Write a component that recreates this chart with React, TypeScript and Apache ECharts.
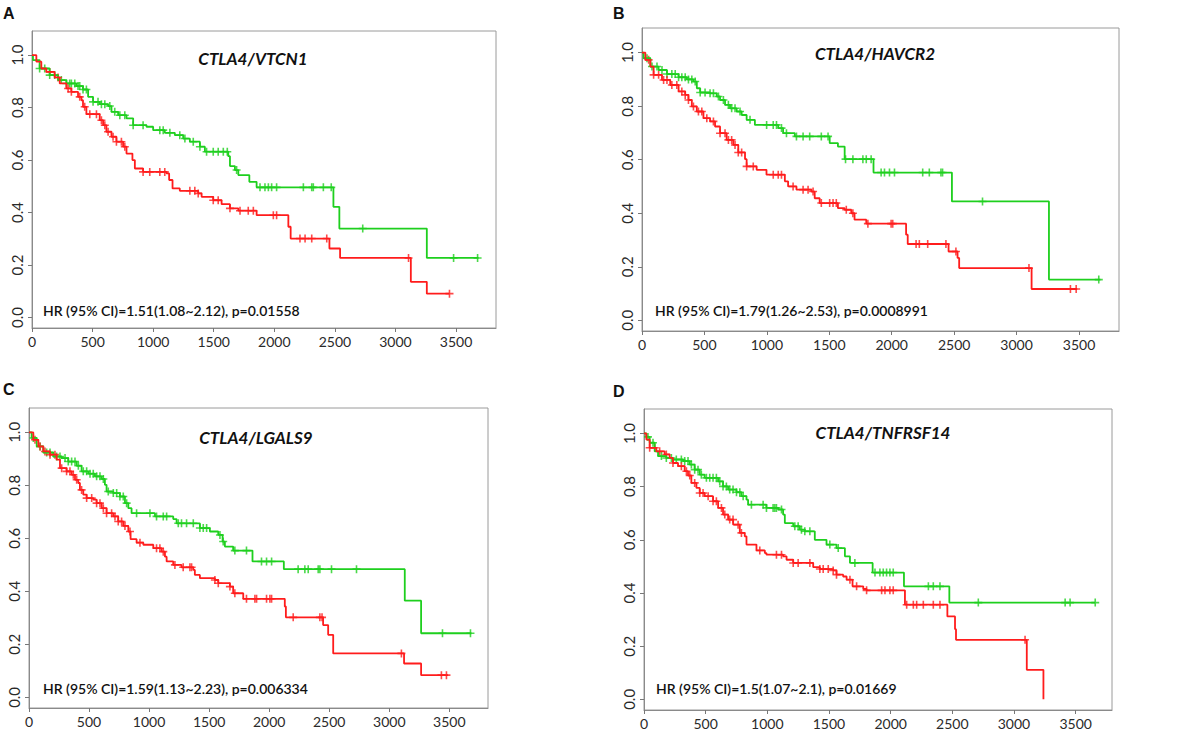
import React, { useEffect, useRef } from "react";
import * as echarts from "echarts";

// ---------- tick labels ----------
const xTicks = [0, 500, 1000, 1500, 2000, 2500, 3000, 3500];
const yTicks = [0, 0.2, 0.4, 0.6, 0.8, 1.0];

// ---------- texts ----------
const panelLetters = ["A", "B", "C", "D"];
const geneTitles = ["CTLA4/VTCN1", "CTLA4/HAVCR2", "CTLA4/LGALS9", "CTLA4/TNFRSF14"];
const hrTexts = [
  "HR (95% CI)=1.51(1.08~2.12), p=0.01558",
  "HR (95% CI)=1.79(1.26~2.53), p=0.0008991",
  "HR (95% CI)=1.59(1.13~2.23), p=0.006334",
  "HR (95% CI)=1.5(1.07~2.1), p=0.01669",
];

// ---------- survival steps [time, survival after time] ----------
const aGreen = [[0,1],[8,0.981],[63,0.949],[146,0.924],[215,0.905],[284,0.892],[366,0.882],[421,0.869],[463,0.841],[504,0.822],[559,0.813],[628,0.806],[656,0.784],[711,0.771],[780,0.759],[835,0.733],[945,0.727],[1000,0.714],[1096,0.704],[1179,0.695],[1248,0.682],[1303,0.67],[1386,0.651],[1427,0.632],[1620,0.615],[1634,0.577],[1675,0.562],[1703,0.543],[1794,0.517],[1854,0.496],[2488,0.422],[2537,0.339],[3259,0.227],[3686,0.227]];
const aRed = [[0,1],[36,0.975],[77,0.949],[118,0.936],[187,0.915],[229,0.892],[284,0.873],[325,0.86],[380,0.841],[408,0.828],[421,0.803],[449,0.775],[559,0.752],[587,0.733],[614,0.708],[656,0.689],[697,0.67],[752,0.651],[780,0.625],[829,0.6],[849,0.568],[917,0.555],[1110,0.549],[1132,0.524],[1160,0.492],[1220,0.483],[1372,0.473],[1400,0.46],[1496,0.447],[1565,0.432],[1634,0.416],[1703,0.407],[1854,0.39],[2116,0.346],[2135,0.301],[2455,0.263],[2543,0.227],[3127,0.136],[3259,0.091],[3446,0.091]];
const aGreenCensor = [63,105,146,187,242,284,311,325,353,380,394,421,449,504,545,573,601,642,683,725,766,835,917,1055,1083,1138,1220,1262,1331,1386,1441,1496,1537,1579,1612,1689,1882,1923,1951,1978,2019,2240,2309,2322,2405,2470,2730,3480,3678];
const aRedCensor = [146,215,298,325,394,435,477,532,573,601,628,669,697,738,766,917,972,1055,1096,1303,1344,1372,1496,1537,1634,1717,1785,1827,1992,2019,2212,2254,2309,2433,3108,3446];

const bGreen = [[0,1],[13,0.979],[67,0.948],[133,0.935],[200,0.92],[293,0.908],[359,0.9],[412,0.892],[439,0.867],[466,0.851],[545,0.848],[599,0.836],[625,0.823],[665,0.805],[705,0.792],[758,0.78],[798,0.767],[838,0.749],[904,0.73],[1091,0.718],[1130,0.699],[1224,0.687],[1503,0.662],[1569,0.649],[1623,0.602],[1854,0.552],[2482,0.444],[3259,0.152],[3671,0.152]];
const bRed = [[0,1],[27,0.973],[67,0.948],[93,0.917],[160,0.898],[226,0.879],[293,0.855],[346,0.842],[372,0.823],[399,0.799],[439,0.78],[492,0.755],[545,0.743],[585,0.724],[625,0.699],[678,0.674],[731,0.655],[771,0.627],[825,0.602],[838,0.575],[918,0.562],[997,0.544],[1144,0.519],[1170,0.5],[1237,0.488],[1357,0.481],[1383,0.456],[1423,0.438],[1569,0.419],[1623,0.413],[1676,0.4],[1702,0.376],[1796,0.361],[2115,0.32],[2128,0.285],[2455,0.257],[2527,0.233],[2540,0.195],[3120,0.117],[3485,0.117]];
const bGreenCensor = [40,80,120,160,200,239,266,293,319,346,372,399,426,466,505,545,572,612,652,692,718,745,785,865,998,1051,1077,1117,1157,1237,1290,1343,1436,1490,1630,1689,1769,1796,1835,1915,1942,1982,2022,2248,2301,2394,2407,2727,3658];
const bRedCensor = [53,93,133,173,200,239,279,319,346,372,412,452,479,519,572,625,665,692,718,745,771,798,838,891,1051,1091,1117,1210,1290,1330,1370,1436,1503,1530,1556,1636,1689,1809,1995,2008,2195,2221,2288,2434,2514,3099,3431,3477];

const cGreen = [[0,1],[22,0.979],[64,0.947],[119,0.924],[202,0.909],[272,0.903],[327,0.89],[397,0.874],[438,0.853],[494,0.844],[549,0.834],[605,0.824],[632,0.802],[646,0.777],[702,0.771],[757,0.758],[799,0.733],[827,0.714],[854,0.695],[1049,0.683],[1201,0.673],[1229,0.657],[1423,0.639],[1506,0.626],[1576,0.613],[1612,0.588],[1631,0.569],[1700,0.554],[1861,0.513],[2122,0.484],[3129,0.365],[3265,0.242],[3684,0.242]];
const cRed = [[0,1],[36,0.972],[78,0.947],[119,0.928],[175,0.916],[230,0.897],[258,0.865],[313,0.853],[355,0.84],[383,0.821],[410,0.809],[424,0.783],[452,0.765],[480,0.752],[535,0.746],[563,0.733],[605,0.714],[646,0.695],[702,0.683],[743,0.664],[785,0.647],[827,0.626],[846,0.597],[896,0.584],[952,0.576],[1035,0.563],[1104,0.55],[1132,0.531],[1146,0.513],[1201,0.5],[1270,0.491],[1368,0.481],[1381,0.462],[1423,0.45],[1548,0.443],[1576,0.431],[1673,0.418],[1700,0.393],[1784,0.372],[2130,0.343],[2139,0.302],[2449,0.273],[2491,0.236],[2533,0.166],[3123,0.128],[3265,0.084],[3490,0.084]];
const cGreenCensor = [36,92,147,175,230,258,300,327,355,383,411,452,480,508,535,563,591,619,660,702,730,757,785,813,896,1007,1062,1118,1146,1243,1270,1312,1368,1423,1451,1479,1590,1617,1714,1811,1936,1978,2020,2241,2297,2325,2408,2422,2519,2727,3443,3676];
const cRedCensor = [50,92,133,175,216,272,313,341,369,397,438,480,522,563,591,619,646,688,716,743,771,799,841,924,1062,1090,1118,1215,1284,1340,1354,1548,1576,1673,1714,1811,1881,1895,1978,2006,2020,2200,2422,2440,3101,3434,3476];

const dGreen = [[0,1],[19,0.987],[46,0.965],[87,0.933],[114,0.915],[181,0.908],[235,0.902],[317,0.896],[371,0.883],[411,0.864],[452,0.845],[492,0.833],[601,0.82],[641,0.801],[682,0.789],[750,0.779],[790,0.764],[831,0.751],[844,0.732],[993,0.72],[1088,0.714],[1128,0.695],[1142,0.663],[1210,0.651],[1264,0.638],[1304,0.632],[1385,0.6],[1480,0.582],[1561,0.569],[1629,0.538],[1670,0.513],[1854,0.477],[2108,0.425],[2476,0.364],[3659,0.364]];
const dRed = [[0,1],[19,0.977],[46,0.946],[100,0.933],[168,0.921],[208,0.908],[235,0.889],[276,0.877],[330,0.858],[357,0.842],[384,0.814],[425,0.795],[452,0.776],[492,0.764],[560,0.745],[601,0.72],[641,0.695],[682,0.676],[723,0.657],[777,0.626],[817,0.613],[831,0.582],[912,0.56],[980,0.55],[993,0.544],[1128,0.538],[1156,0.525],[1210,0.513],[1372,0.497],[1426,0.49],[1534,0.485],[1561,0.469],[1615,0.462],[1643,0.45],[1691,0.425],[1778,0.415],[1805,0.41],[2116,0.356],[2460,0.312],[2522,0.264],[2530,0.224],[3104,0.111],[3239,0]];
const dGreenCensor = [32,73,141,181,222,262,303,330,357,384,411,438,465,506,533,560,587,614,641,668,695,722,750,777,804,871,966,993,1047,1061,1074,1115,1223,1250,1277,1304,1345,1507,1575,1710,1873,1913,1940,1967,1994,2021,2306,2346,2400,2711,3415,3455,3659];
const dRedCensor = [46,87,127,181,235,303,344,371,411,452,479,520,560,587,628,655,695,722,763,790,939,1074,1115,1210,1250,1345,1426,1453,1494,1534,1561,1670,1724,1805,1927,1954,1994,2021,2130,2184,2211,2265,2346,2400,3090];

const greenSteps = [aGreen, bGreen, cGreen, dGreen];
const redSteps = [aRed, bRed, cRed, dRed];
const greenCensors = [aGreenCensor, bGreenCensor, cGreenCensor, dGreenCensor];
const redCensors = [aRedCensor, bRedCensor, cRedCensor, dRedCensor];

// ---------- layout (pixels) ----------
const GRIDS = [
  { left: 32, top: 31, width: 464, height: 297, xMax: 3830 },
  { left: 642, top: 28, width: 477, height: 303, xMax: 3820 },
  { left: 29, top: 408, width: 459, height: 300, xMax: 3822 },
  { left: 644, top: 409, width: 468, height: 301, xMax: 3795 },
];
const LETTER_POS = [[3, 13], [613, 13], [3, 389], [613, 391]];
const TITLE_POS = [[253, 58], [875, 53], [256, 437], [883, 432]];
const HR_POS = [[43, 310], [655, 310], [43, 688], [656, 688]];

const GREEN = "#1ecf1e";
const RED = "#ff1c1c";
const PLUS = "path://M4,0H6V4H10V6H6V10H4V6H0V4H4Z";
const FONT = "Lato, 'Open Sans', sans-serif";

function survAt(steps: number[][], t: number) {
  let s = steps[0][1];
  for (const [ti, si] of steps) {
    if (ti <= t) s = si;
    else break;
  }
  return s;
}

function buildOption() {
  const grid: any[] = [];
  const xAxis: any[] = [];
  const yAxis: any[] = [];
  const series: any[] = [];
  const graphic: any[] = [];

  GRIDS.forEach((g, i) => {
    grid.push({
      left: g.left, top: g.top, width: g.width, height: g.height,
      show: true, borderColor: "#9a9a9a", borderWidth: 1, backgroundColor: "#fff",
    });
    xAxis.push({
      type: "value", gridIndex: i, min: 0, max: g.xMax,
      splitLine: { show: false },
      axisLine: { show: true, onZero: false, lineStyle: { color: "#8a8a8a", width: 1 } },
      axisTick: { show: true, inside: false, length: 4, customValues: xTicks, lineStyle: { color: "#777" } },
      axisLabel: {
        show: true, customValues: xTicks, margin: 6, color: "#2a2a2a",
        fontFamily: FONT, fontSize: 14, formatter: (v: number) => String(v),
      },
    });
    yAxis.push({
      type: "value", gridIndex: i, min: -0.04, max: 1.092,
      splitLine: { show: false },
      axisLine: { show: true, onZero: false, lineStyle: { color: "#8a8a8a", width: 1 } },
      axisTick: { show: true, inside: false, length: 4, customValues: yTicks, lineStyle: { color: "#777" } },
      axisLabel: {
        show: true, customValues: yTicks, rotate: 90, margin: 8, color: "#2a2a2a",
        fontFamily: FONT, fontSize: 15, formatter: (v: number) => v.toFixed(1),
      },
    });

    const groups = [
      { steps: greenSteps[i], cens: greenCensors[i], color: GREEN },
      { steps: redSteps[i], cens: redCensors[i], color: RED },
    ];
    groups.forEach((grp) => {
      series.push({
        type: "line", xAxisIndex: i, yAxisIndex: i, step: "end",
        data: grp.steps, showSymbol: false, symbol: "none",
        lineStyle: { color: grp.color, width: 1.8 }, silent: true,
      });
      series.push({
        type: "scatter", xAxisIndex: i, yAxisIndex: i,
        data: grp.cens.map((t) => [t, survAt(grp.steps, t)]),
        symbol: PLUS, symbolSize: 8,
        itemStyle: { color: grp.color, opacity: 0.8 }, silent: true,
      });
    });

    graphic.push({
      type: "text", x: LETTER_POS[i][0], y: LETTER_POS[i][1],
      style: {
        text: panelLetters[i], fill: "#111", fontFamily: "'Liberation Sans', Arial, sans-serif",
        fontWeight: "bold", fontSize: 16, align: "left", verticalAlign: "middle",
        textAlign: "left", textVerticalAlign: "middle",
      },
    });
    graphic.push({
      type: "text", x: TITLE_POS[i][0], y: TITLE_POS[i][1],
      style: {
        text: geneTitles[i], fill: "#111", fontFamily: FONT, fontStyle: "italic",
        fontWeight: "bold", fontSize: 17, align: "center", verticalAlign: "middle",
        textAlign: "center", textVerticalAlign: "middle",
      },
    });
    graphic.push({
      type: "text", x: HR_POS[i][0], y: HR_POS[i][1],
      style: {
        text: hrTexts[i], fill: "#111", fontFamily: FONT,
        fontWeight: 600, fontSize: 14, align: "left", verticalAlign: "middle",
        textAlign: "left", textVerticalAlign: "middle",
      },
    });
  });

  return {
    animation: false,
    backgroundColor: "#fff",
    grid, xAxis, yAxis, series, graphic,
  };
}

export default function App() {
  const ref = useRef<HTMLDivElement>(null);
  useEffect(() => {
    if (!ref.current) return;
    const chart = echarts.init(ref.current, null, { renderer: "svg" });
    chart.setOption(buildOption() as any);
    return () => chart.dispose();
  }, []);
  return (
    <div
      ref={ref}
      style={{ position: "absolute", left: 0, top: 0, width: 1189, height: 736, background: "#fff" }}
    />
  );
}
